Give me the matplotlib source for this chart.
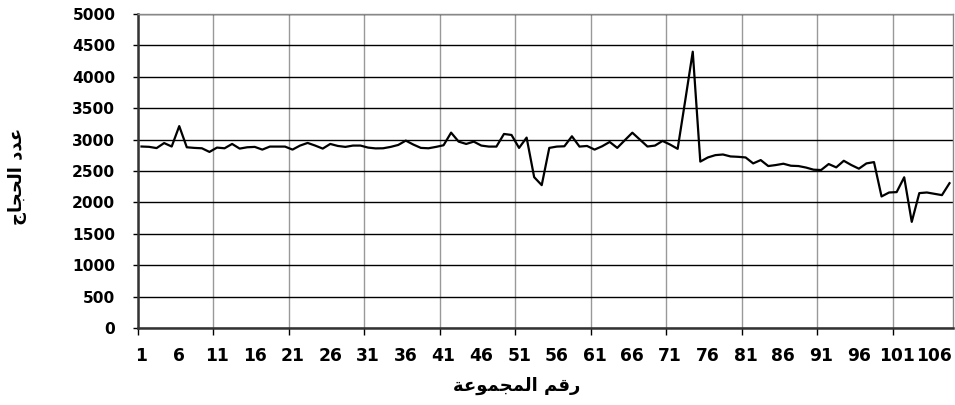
import matplotlib
matplotlib.use("Agg")
import matplotlib.pyplot as plt

# group number (x) and number of pilgrims (y)
groups = list(range(1, 109))
pilgrims = [
    2890, 2885, 2865, 2945, 2890, 3215, 2878, 2868, 2862, 2804,
    2873, 2862, 2931, 2857, 2878, 2884, 2841, 2889, 2889, 2889,
    2841, 2905, 2947, 2905, 2857, 2931, 2899, 2884, 2905, 2905,
    2873, 2860, 2862, 2884, 2915, 2984, 2921, 2868, 2862, 2884,
    2910, 3111, 2968, 2931, 2968, 2905, 2889, 2889, 3090, 3074,
    2868, 3032, 2402, 2275, 2868, 2889, 2894, 3053, 2889, 2899,
    2841, 2894, 2963, 2868, 2990, 3110, 3000, 2890, 2905, 2979,
    2921, 2853, 3620, 4400, 2650, 2716, 2753, 2763, 2732, 2726,
    2716, 2621, 2674, 2579, 2595, 2616, 2584, 2579, 2555, 2521,
    2516, 2611, 2558, 2663, 2595, 2537, 2621, 2642, 2095, 2158,
    2164, 2400, 1690, 2148, 2158, 2137, 2116, 2306,
]
x_ticks = list(range(1, 107, 5))
y_ticks = list(range(0, 5001, 500))
x_title = "رقم المجموعة"
y_title = "عدد الحجاج"

# matplotlib has no arabic shaping, so pick presentation forms by hand
# (isolated, final, initial, medial)
FORMS = {
    "ا": ("\uFE8D", "\uFE8E", None, None),
    "د": ("\uFEA9", "\uFEAA", None, None),
    "ر": ("\uFEAD", "\uFEAE", None, None),
    "و": ("\uFEED", "\uFEEE", None, None),
    "ة": ("\uFE93", "\uFE94", None, None),
    "ق": ("\uFED5", "\uFED6", "\uFED7", "\uFED8"),
    "م": ("\uFEE1", "\uFEE2", "\uFEE3", "\uFEE4"),
    "ل": ("\uFEDD", "\uFEDE", "\uFEDF", "\uFEE0"),
    "ج": ("\uFE9D", "\uFE9E", "\uFE9F", "\uFEA0"),
    "ع": ("\uFEC9", "\uFECA", "\uFECB", "\uFECC"),
    "ح": ("\uFEA1", "\uFEA2", "\uFEA3", "\uFEA4"),
}


def shape_ar(text):
    out = []
    for k, ch in enumerate(text):
        if ch not in FORMS:
            out.append(ch)
            continue
        prev = text[k - 1] if k > 0 else ""
        nxt = text[k + 1] if k + 1 < len(text) else ""
        iso, fin, ini, med = FORMS[ch]
        joins_prev = prev in FORMS and FORMS[prev][2] is not None
        joins_next = ini is not None and nxt in FORMS
        if joins_prev and joins_next:
            out.append(med)
        elif joins_prev:
            out.append(fin)
        elif joins_next:
            out.append(ini)
        else:
            out.append(iso)
    return "".join(reversed(out))


plt.rcParams["font.family"] = ["DejaVu Sans"]
plt.rcParams["font.weight"] = "bold"

fig = plt.figure(figsize=(9.55, 4.05), dpi=100)
ax = fig.add_axes([0.1442, 0.1901, 0.854, 0.7753])

ax.plot(groups, pilgrims, color="black", lw=1.6, zorder=3)

ax.set_xlim(0.5, 108.5)
ax.set_ylim(0, 5000)
ax.set_yticks(y_ticks)
ax.set_xticks(x_ticks)
ax.set_xticklabels([str(t) for t in x_ticks])
ax.set_xticks([0.5 + 10 * k for k in range(11)], minor=True)

ax.tick_params(axis="x", which="major", length=0, pad=13.5, labelsize=12.3)
ax.tick_params(axis="x", which="minor", length=5, width=1, color="black")
ax.tick_params(axis="y", length=3.6, width=1, pad=12.5, labelsize=11.2)

ax.xaxis.grid(True, which="minor", color="#999999", lw=1)
ax.yaxis.grid(True, color="black", lw=1)
ax.set_axisbelow(True)

for side in ["left", "bottom"]:
    ax.spines[side].set_color("#333333")
    ax.spines[side].set_linewidth(1.8)
for side in ["top", "right"]:
    ax.spines[side].set_color("#888888")
    ax.spines[side].set_linewidth(1)

fig.text(0.541, 0.047, shape_ar(x_title), ha="center", va="center",
         fontsize=13, fontweight="bold")
fig.text(0.018, 0.565, shape_ar(y_title), ha="center", va="center",
         rotation=90, fontsize=13, fontweight="bold")

fig.savefig("out.png", dpi=100)
